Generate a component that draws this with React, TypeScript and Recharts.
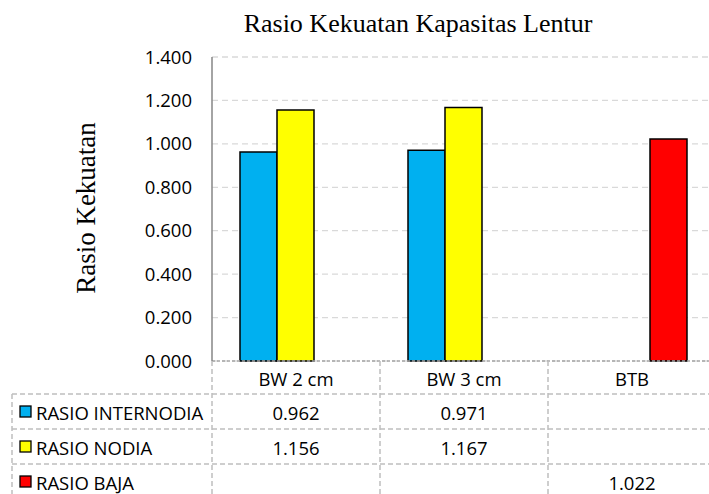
import React from 'react';
import { BarChart, Bar, XAxis, YAxis, CartesianGrid } from 'recharts';

const categories = ['BW 2 cm', 'BW 3 cm', 'BTB'];
const rasioInternodia: (number | null)[] = [0.962, 0.971, null];
const rasioNodia: (number | null)[] = [1.156, 1.167, null];
const rasioBaja: (number | null)[] = [null, null, 1.022];
const yTicks = [0, 0.2, 0.4, 0.6, 0.8, 1.0, 1.2, 1.4];

const seriesList = [
  { key: 'internodia', name: 'RASIO INTERNODIA', values: rasioInternodia, color: '#00B0F0' },
  { key: 'nodia', name: 'RASIO NODIA', values: rasioNodia, color: '#FFFF00' },
  { key: 'baja', name: 'RASIO BAJA', values: rasioBaja, color: '#FF0000' },
];

const data = categories.map((c, i) => {
  const row: Record<string, any> = { category: c };
  seriesList.forEach((s) => {
    row[s.key] = s.values[i];
  });
  return row;
});

const W = 720;
const H = 494;
const MARGIN = { top: 57, right: 4, left: 152, bottom: 0 };
const Y_W = 60;
const X_H = 133;
const PLOT_W = W - MARGIN.left - MARGIN.right - Y_W;
const FONT = '"Open Sans", sans-serif';
const FS = 18.5;
const LINE = '#bfbfbf';
const DASH = '5 3';
const HEADER_H = 33;
const ROW_H = 35;
const TABLE_LEFT = 12;
const SERIF = '"Liberation Serif", "Times New Roman", serif';

function TableTick(props: any) {
  const { x, y, payload, index } = props;
  const colW = PLOT_W / categories.length;
  const left = x - colW / 2;
  const right = x + colW / 2;
  const top = y;
  const rowTops = seriesList.map((_, i) => top + HEADER_H + i * ROW_H);
  const els: React.ReactNode[] = [];
  els.push(
    <text key="h" x={x} y={top + HEADER_H / 2 + 1} textAnchor="middle" dominantBaseline="central"
      fontFamily={FONT} fontSize={FS} fill="#000">{payload.value}</text>
  );
  els.push(<line key="vl" x1={left} x2={left} y1={top} y2={H + 10} stroke={LINE} strokeWidth={1.5} strokeDasharray={DASH} />);
  if (index === categories.length - 1) {
    els.push(<line key="vr" x1={right} x2={right} y1={top} y2={H + 10} stroke={LINE} strokeWidth={1.5} strokeDasharray={DASH} />);
  }
  rowTops.forEach((rt, i) => {
    els.push(<line key={'hl' + i} x1={left} x2={right} y1={rt} y2={rt} stroke={LINE} strokeWidth={1.5} strokeDasharray={DASH} />);
    const v = seriesList[i].values[index];
    if (v !== null && v !== undefined) {
      els.push(
        <text key={'v' + i} x={x} y={rt + ROW_H / 2 + 1} textAnchor="middle" dominantBaseline="central"
          fontFamily={FONT} fontSize={FS} fill="#000">{v.toFixed(3)}</text>
      );
    }
  });
  if (index === 0) {
    els.push(<line key="lv" x1={TABLE_LEFT} x2={TABLE_LEFT} y1={rowTops[0]} y2={H + 10} stroke={LINE} strokeWidth={1.5} strokeDasharray={DASH} />);
    rowTops.forEach((rt, i) => {
      const s = seriesList[i];
      els.push(<line key={'lh' + i} x1={TABLE_LEFT} x2={left} y1={rt} y2={rt} stroke={LINE} strokeWidth={1.5} strokeDasharray={DASH} />);
      els.push(<rect key={'ls' + i} x={20} y={rt + ROW_H / 2 - 5.5} width={11} height={11} fill={s.color} stroke="#000" strokeWidth={1.3} />);
      els.push(
        <text key={'ln' + i} x={36} y={rt + ROW_H / 2 + 1} dominantBaseline="central"
          fontFamily={FONT} fontSize={FS} fill="#000">{s.name}</text>
      );
    });
  }
  return <g>{els}</g>;
}

export default function App() {
  return (
    <div style={{ position: 'absolute', left: 0, top: 0, width: 709, height: 494, overflow: 'hidden', background: '#fff' }}>
      <BarChart width={W} height={H} data={data} margin={MARGIN} barCategoryGap={28} barGap={0}>
        <CartesianGrid vertical={false} stroke="#d9d9d9" strokeDasharray="6 4" strokeWidth={1.3} />
        <XAxis dataKey="category" height={X_H} tickLine={false} tickSize={0} tickMargin={0} interval={0}
          axisLine={{ stroke: '#a6a6a6', strokeDasharray: '3 2', strokeWidth: 1.5 }}
          tick={(p: any) => <TableTick {...p} />} />
        <YAxis width={Y_W} domain={[0, 1.4]} ticks={yTicks} interval={0} tickLine={false} tickSize={0} tickMargin={20}
          axisLine={{ stroke: '#868686', strokeWidth: 1.5 }}
          tickFormatter={(v: number) => v.toFixed(3)}
          tick={{ fontFamily: FONT, fontSize: FS, fill: '#000' }} />
        {seriesList.map((s) => (
          <Bar key={s.key} dataKey={s.key} name={s.name} fill={s.color} stroke="#000" strokeWidth={1.5} isAnimationActive={false} />
        ))}
      </BarChart>
      <div style={{ position: 'absolute', left: 0, top: 0, width: 709, height: 494, pointerEvents: 'none' }}>
        <svg width={709} height={494}>
          <text x={418} y={32} textAnchor="middle" fontFamily={SERIF} fontSize={26} fill="#000">
            Rasio Kekuatan Kapasitas Lentur
          </text>
          <text x={95} y={208} textAnchor="middle" transform="rotate(-90 95 208)"
            fontFamily={SERIF} fontSize={27} fill="#000">
            Rasio Kekuatan
          </text>
        </svg>
      </div>
    </div>
  );
}
